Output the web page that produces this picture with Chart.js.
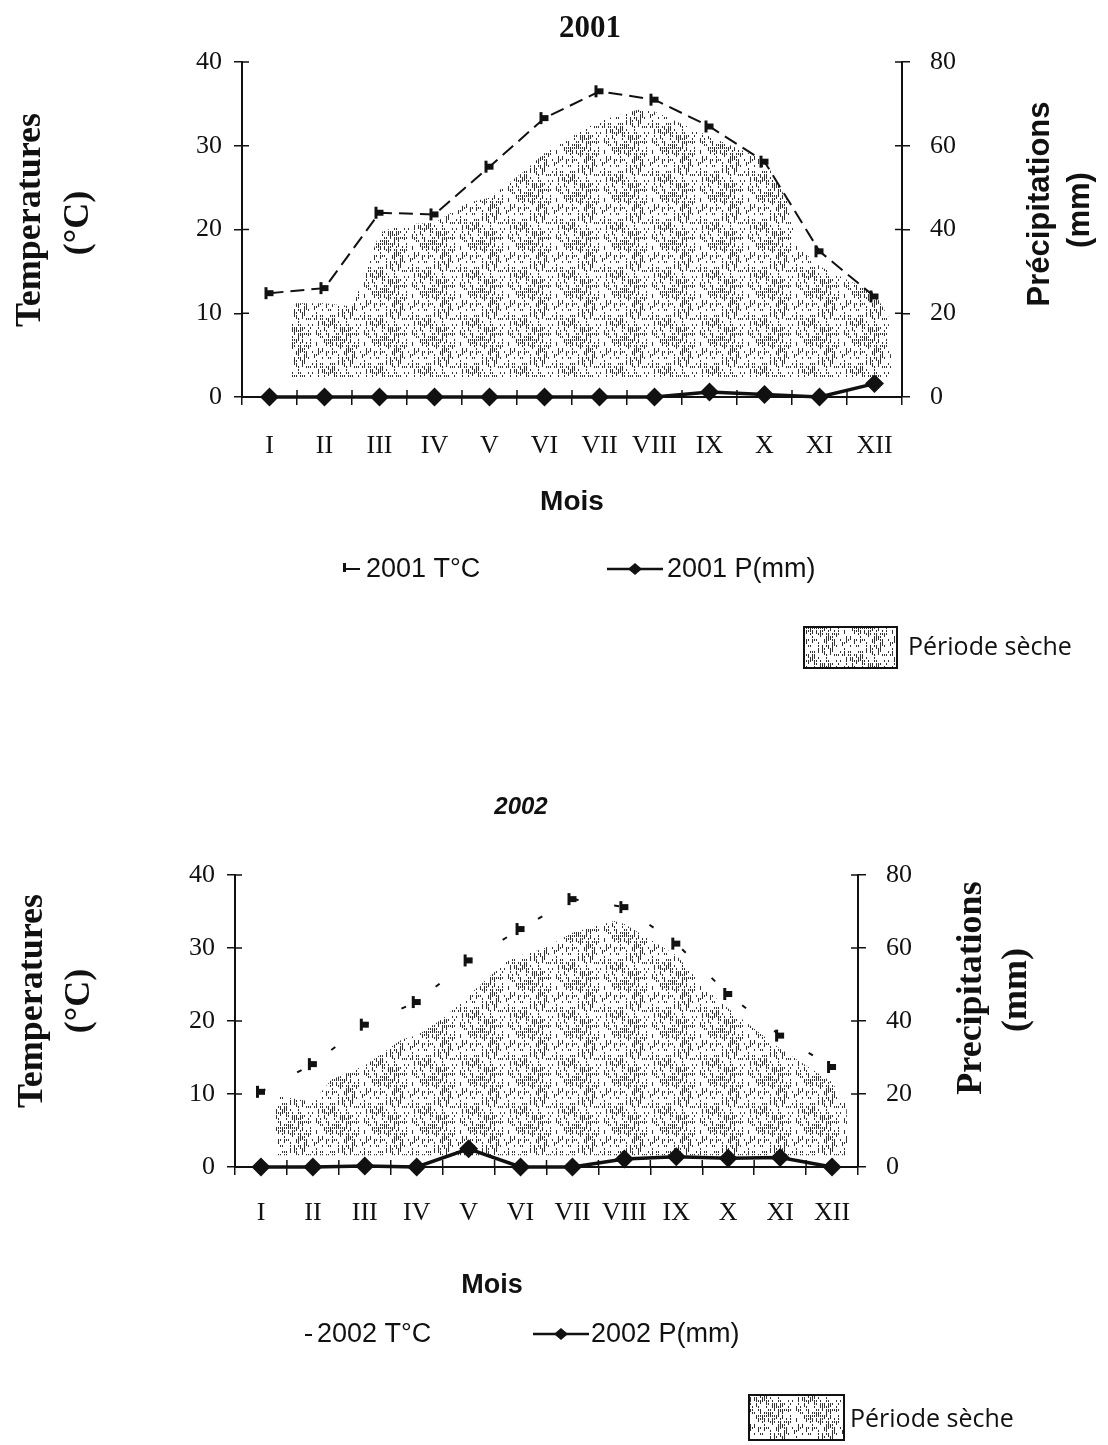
<!DOCTYPE html>
<html>
<head>
<meta charset="utf-8">
<script src="https://cdn.jsdelivr.net/npm/chart.js@4.4.1/dist/chart.umd.min.js"></script>
<style>
  body { margin: 0; background: #fff; width: 1108px; height: 1445px; position: relative; overflow: hidden; }
  canvas { position: absolute; left: 0; }
  #c1 { top: 0; }
  #c2 { top: 740px; }
</style>
</head>
<body>
<canvas id="c1" width="1108" height="740"></canvas>
<canvas id="c2" width="1108" height="705"></canvas>
<script>
const months = ["I", "II", "III", "IV", "V", "VI", "VII", "VIII", "IX", "X", "XI", "XII"];

// 2001
const t2001 = [12.4, 13.0, 22.0, 21.8, 27.5, 33.3, 36.5, 35.5, 32.3, 28.1, 17.4, 12.0];
const p2001 = [0, 0, 0, 0, 0, 0, 0, 0, 1.2, 0.6, 0, 3.2];
// dry period outline (month index, °C)
const dryX2001 = [0.4, 0.4, 1.0, 1.5, 1.7, 2.0, 2.4, 3.0, 3.6, 4.0, 4.6, 5.0, 5.5, 6.0, 6.7, 7.0, 8.0, 9.0, 9.4, 9.6, 10.0, 11.0, 11.25, 11.3, 11.3];
const dryY2001 = [2.4, 11.2, 11.2, 10.8, 14, 19.6, 20.6, 20.8, 23.2, 23.8, 26.8, 29.1, 31.1, 33, 34.3, 34.1, 31.1, 28.3, 23.6, 18, 15.6, 12.4, 9.6, 4.8, 2.4];

// 2002
const t2002 = [10.3, 14.1, 19.5, 22.6, 28.3, 32.6, 36.7, 35.6, 30.6, 23.7, 18.0, 13.7];
const p2002 = [0, 0, 0.3, 0, 5.0, 0, 0, 2.2, 2.8, 2.4, 2.6, 0];
const dryX2002 = [0.28, 0.28, 1.0, 1.36, 2.0, 2.72, 3.0, 3.5, 4.0, 4.7, 5.0, 5.44, 6.0, 6.8, 7.0, 8.0, 8.56, 9.0, 10.0, 11.0, 11.28, 11.3];
const dryY2002 = [1.6, 9.8, 8.9, 12, 13.9, 17.5, 18, 20.3, 23.5, 28, 29, 29.9, 32.1, 33.7, 33.3, 29, 24.4, 21.7, 16.2, 11.6, 8.4, 1.6];

const SERIF = '"Liberation Serif", "Times New Roman", serif';
const SANS = '"Liberation Sans", Arial, sans-serif';
const CAL = '"Open Sans", "Noto Sans", sans-serif';
const INK = "#111";

// stippled texture for the dry period
function stipple(ctx) {
  const c = document.createElement("canvas");
  c.width = 48; c.height = 48;
  const g = c.getContext("2d");
  g.fillStyle = "#fff"; g.fillRect(0, 0, 48, 48);
  g.fillStyle = "#333";
  for (let x = 0; x < 48; x += 2) for (let y = 0; y < 48; y += 3) {
    const h = Math.abs(Math.sin(x * 12.9898 + y * 78.233) * 43758.5453) % 1;
    if (h < 0.42) g.fillRect(x, y, 1, h < 0.18 ? 4 : 2);
  }
  return ctx.createPattern(c, "repeat");
}

function tMark() {
  const c = document.createElement("canvas");
  c.width = 12; c.height = 14;
  const g = c.getContext("2d");
  g.fillStyle = INK;
  g.fillRect(1, 1, 3, 12);
  g.fillRect(3, 4, 7, 6);
  return c;
}

// inner half of the crossing tick marks
const innerTicks = {
  id: "innerTicks",
  afterDraw(chart) {
    const { ctx, scales: { x, y, yP } } = chart;
    ctx.save();
    ctx.strokeStyle = INK; ctx.lineWidth = 1.5; ctx.beginPath();
    const w = x.width / months.length;
    for (let i = 0; i <= months.length; i++) {
      const px = x.left + i * w;
      ctx.moveTo(px, x.top); ctx.lineTo(px, x.top - 7);
    }
    y.ticks.forEach((t, i) => { const py = y.getPixelForTick(i); ctx.moveTo(y.right, py); ctx.lineTo(y.right + 7, py); });
    yP.ticks.forEach((t, i) => { const py = yP.getPixelForTick(i); ctx.moveTo(yP.left, py); ctx.lineTo(yP.left - 7, py); });
    ctx.stroke();
    ctx.restore();
  }
};

// titles, side titles and legend
const texts = {
  id: "texts",
  afterDraw(chart, args, opts) {
    const ctx = chart.ctx;
    for (const t of opts.items) {
      ctx.save();
      ctx.font = t.font; ctx.fillStyle = INK;
      ctx.textAlign = t.align || "center"; ctx.textBaseline = "middle";
      ctx.translate(t.x, t.y);
      if (t.rot) ctx.rotate(t.rot);
      ctx.fillText(t.text, 0, 0);
      ctx.restore();
    }
    ctx.save();
    ctx.strokeStyle = INK; ctx.fillStyle = INK;
    for (const s of opts.symbols) {
      if (s.kind === "t") {
        ctx.lineWidth = 2;
        ctx.beginPath(); ctx.moveTo(s.x, s.y); ctx.lineTo(s.x + s.w, s.y); ctx.stroke();
        if (s.bar) ctx.fillRect(s.x, s.y - 6, 3, 9);
      } else if (s.kind === "p") {
        ctx.lineWidth = 2.5;
        ctx.beginPath(); ctx.moveTo(s.x, s.y); ctx.lineTo(s.x + s.w, s.y); ctx.stroke();
        const cx = s.x + s.w / 2;
        ctx.beginPath(); ctx.moveTo(cx, s.y - 6); ctx.lineTo(cx + 7, s.y); ctx.lineTo(cx, s.y + 6); ctx.lineTo(cx - 7, s.y); ctx.closePath(); ctx.fill();
      } else if (s.kind === "box") {
        ctx.fillStyle = opts.pattern; ctx.fillRect(s.x, s.y, s.w, s.h);
        ctx.lineWidth = 2; ctx.strokeRect(s.x, s.y, s.w, s.h);
        ctx.fillStyle = INK;
      }
    }
    ctx.restore();
  }
};

function axis(pos, max, step, pad) {
  return {
    position: pos, min: 0, max: max,
    ticks: { stepSize: step, color: INK, padding: pad, font: { family: SERIF, size: 26 } },
    grid: { drawOnChartArea: false, tickLength: 8, color: INK, lineWidth: 1.5 },
    border: { color: INK, width: 2 },
    afterFit: s => { s.width = 60; }
  };
}

function draw(id, year, t, p, dryX, dryY, dryBase, pad, xPad, items, symbols, tDash) {
  const canvas = document.getElementById(id);
  const pattern = stipple(canvas.getContext("2d"));
  return new Chart(canvas, {
    type: "line",
    data: {
      labels: months,
      datasets: [
        {
          label: year + " P(mm)", data: p, yAxisID: "yP", xAxisID: "x",
          borderColor: INK, borderWidth: 3.5, pointStyle: "rectRot", pointRadius: 7,
          pointBackgroundColor: INK, pointBorderColor: INK, clip: false, order: 0
        },
        {
          label: year + " T°C", data: t, yAxisID: "y", xAxisID: "x",
          borderColor: INK, borderWidth: 2, borderDash: tDash, pointStyle: tMark(),
          clip: false, order: 1
        },
        {
          label: "Période sèche", data: dryX.map((x, i) => ({ x, y: dryY[i] })),
          yAxisID: "y", xAxisID: "xs", fill: { value: dryBase },
          backgroundColor: pattern, borderWidth: 0, pointRadius: 0, order: 2
        }
      ]
    },
    options: {
      responsive: false, animation: false, devicePixelRatio: 1,
      layout: { padding: pad },
      plugins: { legend: { display: false }, tooltip: { enabled: false }, texts: { items, symbols, pattern } },
      scales: {
        x: {
          type: "category", offset: true,
          grid: { offset: true, drawOnChartArea: false, tickLength: 8, color: INK, lineWidth: 1.5 },
          border: { color: INK, width: 2 },
          ticks: { color: INK, padding: xPad, maxRotation: 0, autoSkip: false, font: { family: SERIF, size: 26 } },
          afterFit: s => { s.height = 60; }
        },
        xs: { type: "linear", min: -0.5, max: 11.5, display: false },
        y: axis("left", 40, 10, 12),
        yP: axis("right", 80, 20, 20)
      }
    },
    plugins: [innerTicks, texts]
  });
}

const R = -Math.PI / 2;

draw("c1", "2001", t2001, p2001, dryX2001, dryY2001, 2.4,
  { left: 182, right: 146, top: 62, bottom: 283 }, 26,
  [
    { text: "2001", x: 590, y: 29, font: `bold 31px ${SERIF}` },
    { text: "Temperatures", x: 31, y: 220, rot: R, font: `bold 36px ${SERIF}` },
    { text: "(°C)", x: 79, y: 223, rot: R, font: `bold 36px ${SERIF}` },
    { text: "Précipitations", x: 1040, y: 204, rot: R, font: `bold 31px ${SANS}` },
    { text: "(mm)", x: 1080, y: 210, rot: R, font: `bold 31px ${SANS}` },
    { text: "Mois", x: 572, y: 502, font: `bold 28px ${SANS}` },
    { text: "2001 T°C", x: 366, y: 570, align: "left", font: `27px ${SANS}` },
    { text: "2001 P(mm)", x: 667, y: 570, align: "left", font: `27px ${SANS}` },
    { text: "Période sèche", x: 908, y: 648, align: "left", font: `25px ${CAL}` }
  ],
  [
    { kind: "t", x: 343, y: 569, w: 17, bar: true },
    { kind: "p", x: 607, y: 569, w: 56 },
    { kind: "box", x: 804, y: 627, w: 93, h: 41 }
  ],
  [14, 7]);

draw("c2", "2002", t2002, p2002, dryX2002, dryY2002, 1.6,
  { left: 175, right: 190, top: 135, bottom: 218 }, 23,
  [
    { text: "2002", x: 521, y: 67, font: `italic bold 24px ${SANS}` },
    { text: "Temperatures", x: 33, y: 261, rot: R, font: `bold 36px ${SERIF}` },
    { text: "(°C)", x: 80, y: 261, rot: R, font: `bold 36px ${SERIF}` },
    { text: "Precipitations", x: 972, y: 248, rot: R, font: `bold 36px ${SERIF}` },
    { text: "(mm)", x: 1017, y: 250, rot: R, font: `bold 36px ${SERIF}` },
    { text: "Mois", x: 492, y: 546, font: `bold 27px ${SANS}` },
    { text: "2002 T°C", x: 317, y: 595, align: "left", font: `27px ${SANS}` },
    { text: "2002 P(mm)", x: 591, y: 595, align: "left", font: `27px ${SANS}` },
    { text: "Période sèche", x: 850, y: 680, align: "left", font: `25px ${CAL}` }
  ],
  [
    { kind: "t", x: 305, y: 595, w: 7, bar: false },
    { kind: "p", x: 533, y: 594, w: 56 },
    { kind: "box", x: 749, y: 655, w: 95, h: 45 }
  ],
  [5, 36]);
</script>
</body>
</html>
